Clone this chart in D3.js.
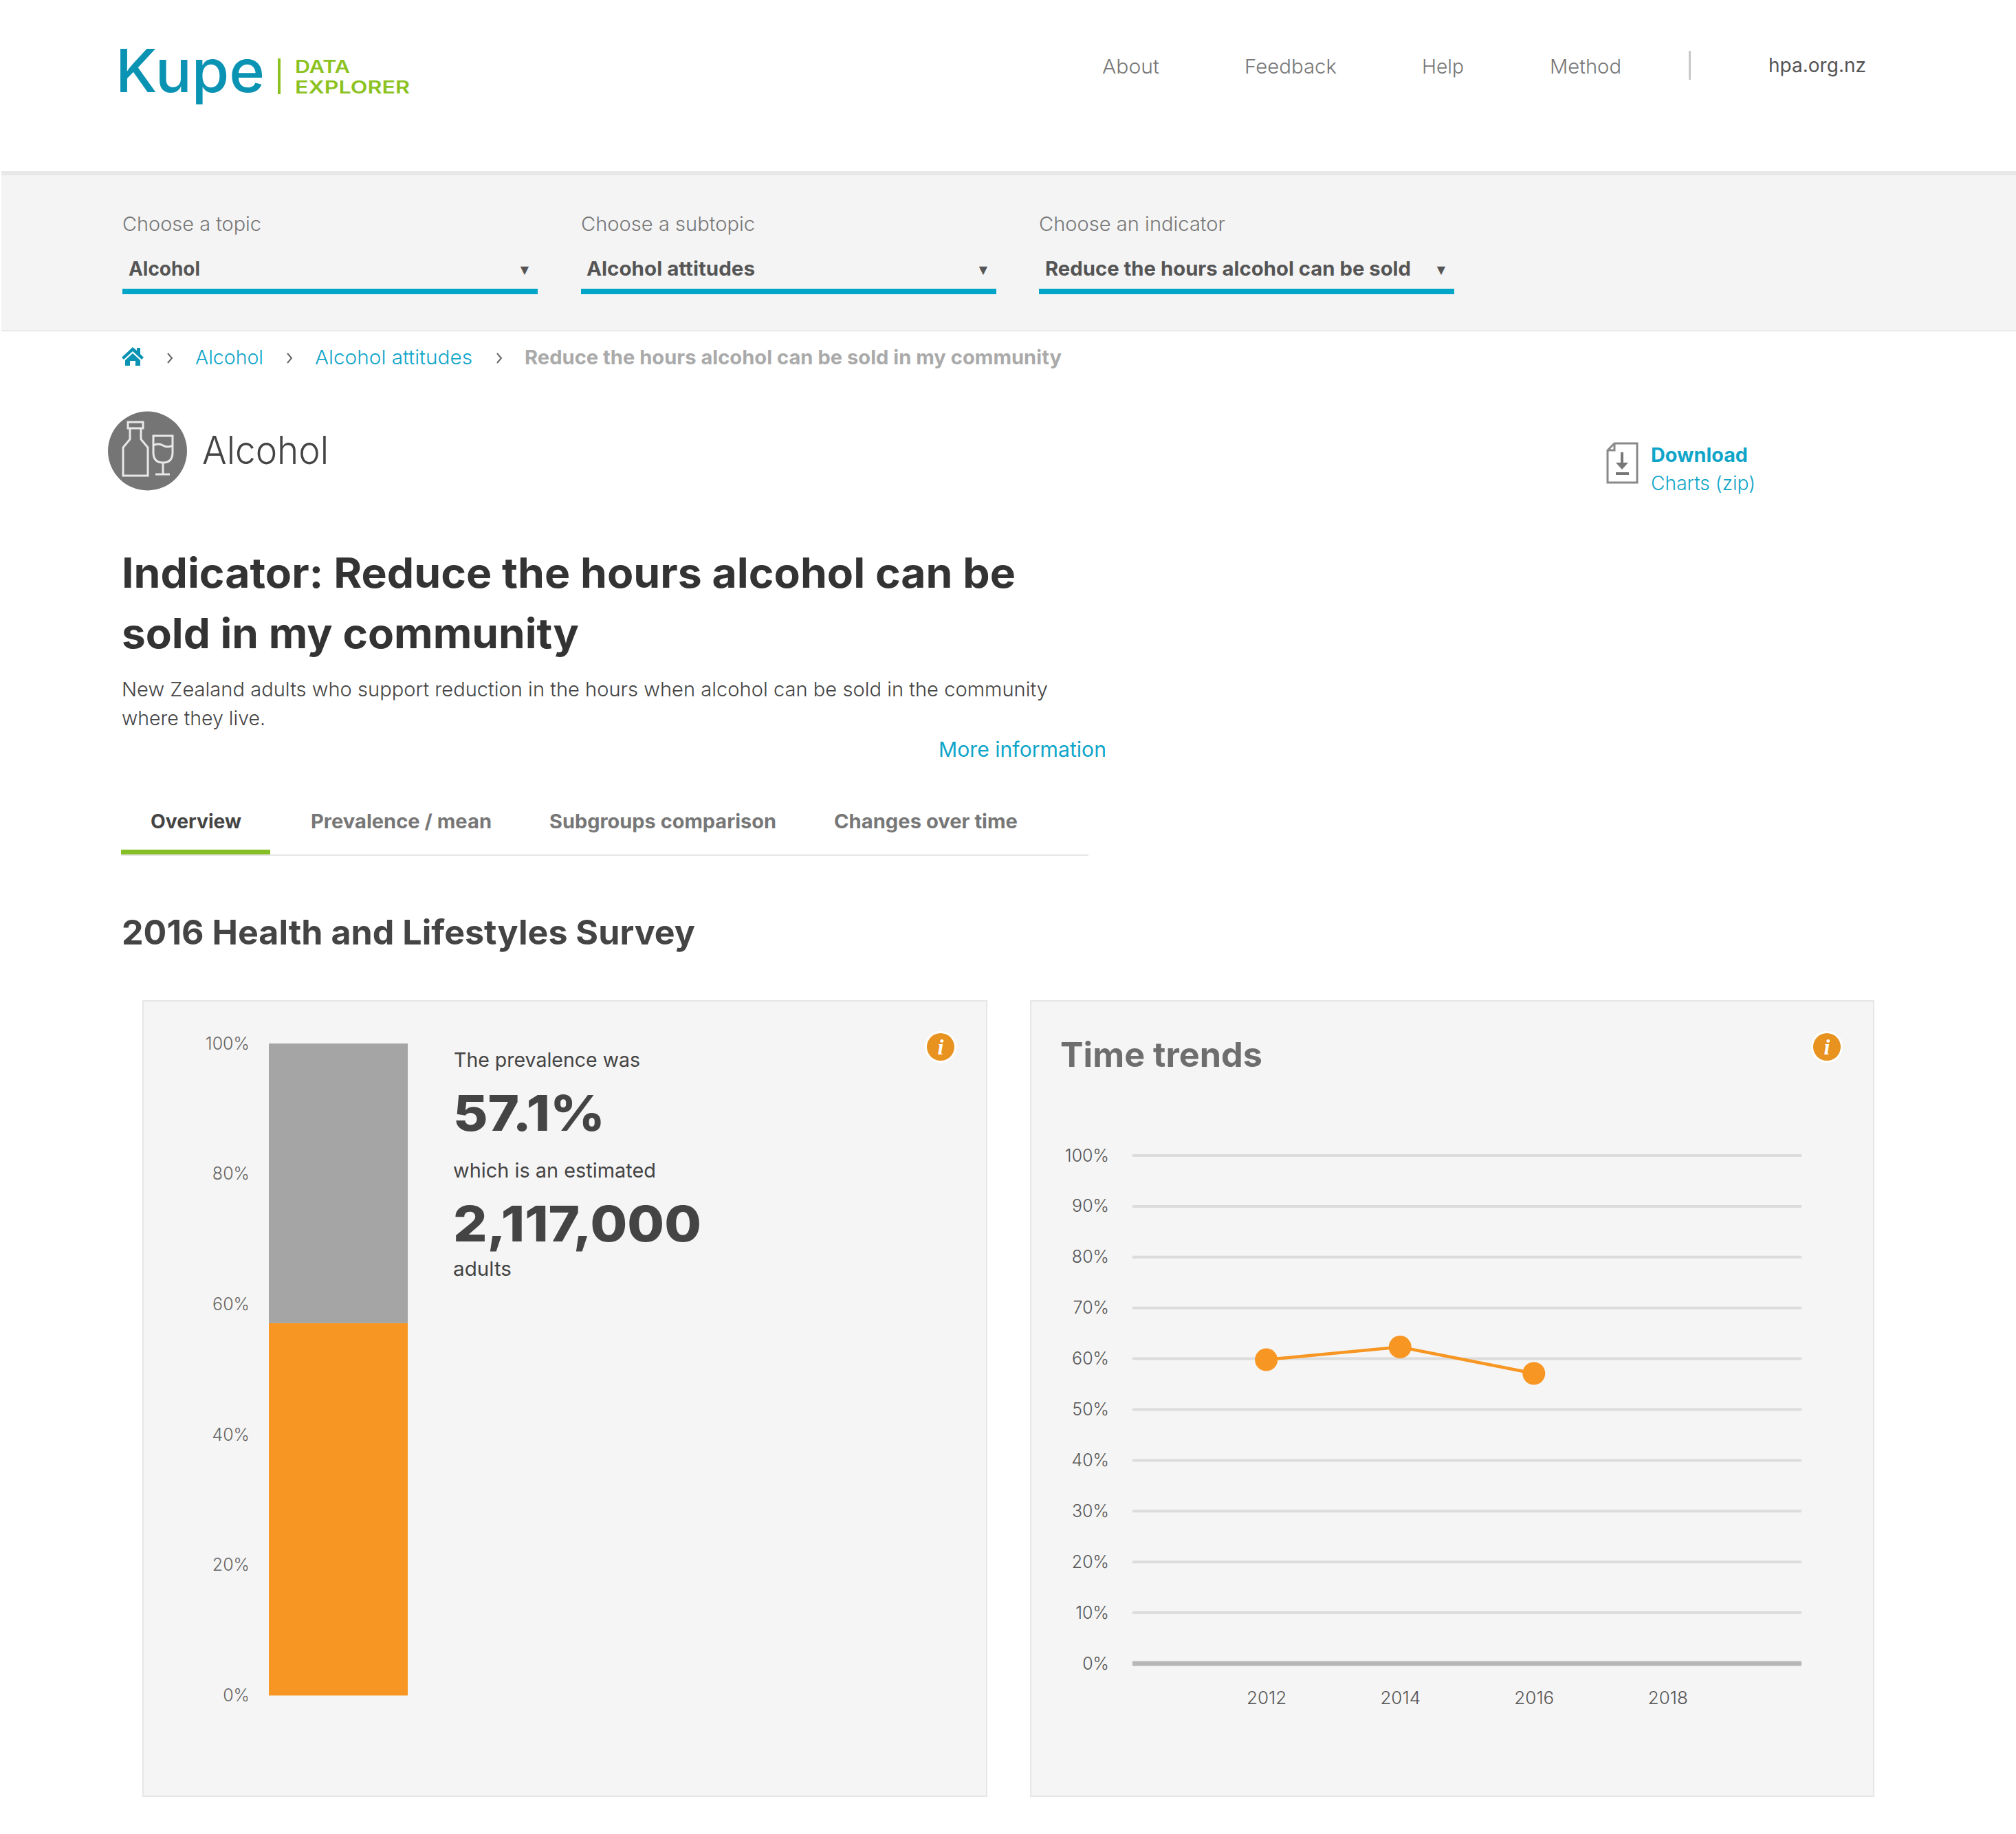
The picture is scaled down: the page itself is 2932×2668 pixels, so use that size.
<!DOCTYPE html>
<html><head><meta charset="utf-8">
<script src="https://cdnjs.cloudflare.com/ajax/libs/d3/7.8.5/d3.min.js"></script>
<style>html,body{margin:0;padding:0;background:#fff}svg{display:block}text{font-family:Inter,"Noto Sans",sans-serif}</style>
</head><body><div id="chart"></div>
<script>
const barTicks = [0, 20, 40, 60, 80, 100];
const prevalence = 57.1;
const remainder = 42.9;
const trendYears = [2012, 2014, 2016];
const trendValues = [59.8, 62.3, 57.1];
const trendYTicks = [0, 10, 20, 30, 40, 50, 60, 70, 80, 90, 100];
const trendXTicks = [2012, 2014, 2016, 2018];
const navLabels = ["About", "Feedback", "Help", "Method"];
const dropdownLabels = ["Choose a topic", "Choose a subtopic", "Choose an indicator"];
const dropdownValues = ["Alcohol", "Alcohol attitudes", "Reduce the hours alcohol can be sold"];
const tabLabels = ["Overview", "Prevalence / mean", "Subgroups comparison", "Changes over time"];

const svg = d3.select("#chart").append("svg").attr("width", 2932).attr("height", 2668);
svg.append("rect").attr("width", 2932).attr("height", 2668).attr("fill", "#fff");

function txt(s, x, y, size, weight, color, width, anchor) {
  const t = svg.append("text").text(s).attr("x", x).attr("y", y)
    .attr("font-size", size).attr("font-weight", weight).attr("fill", color)
    .attr("text-anchor", anchor || "start");
  if (width) t.attr("textLength", width).attr("lengthAdjust", "spacingAndGlyphs");
  return t;
}
function box(x, y, w, h, fill) {
  return svg.append("rect").attr("x", x).attr("y", y).attr("width", w).attr("height", h).attr("fill", fill);
}

// header
txt("Kupe", 168, 134, 86, 500, "#0a93b3", 217);
box(404, 85, 4, 52, "#8cc21f");
txt("DATA", 429, 105.5, 25, 600, "#8cc21f", 80);
txt("EXPLORER", 429, 136, 25, 600, "#8cc21f", 167);
const navX = [[1603, 83], [1810, 134], [2068, 61], [2254, 104]];
navLabels.forEach((d, i) => txt(d, navX[i][0], 107, 29, 300, "#777", navX[i][1]));
box(2456, 74, 3, 42, "#c8c8c8");
txt("hpa.org.nz", 2572, 105, 29, 400, "#555", 142);

// filter strip
box(2, 249, 2930, 6, "#e8e8e8");
box(2, 255, 2930, 225, "#f4f4f4");
box(2, 480, 2930, 2, "#e9e9e9");
const ddX = [178, 845, 1511];
const ddLabelW = [202, 253, 271];
const ddValW = [[9, 104], [8, 245], [9, 532]];
const ddArrow = [763, 1430, 2096];
dropdownLabels.forEach((d, i) => {
  txt(d, ddX[i], 336, 29, 300, "#777", ddLabelW[i]);
  txt(dropdownValues[i], ddX[i] + ddValW[i][0], 401, 29, 700, "#555", ddValW[i][1]);
  txt("\u25BC", ddArrow[i], 398, 16, 400, "#555", null, "middle").style("font-family", "DejaVu Sans");
  box(ddX[i], 420, 604, 8, "#00a5c8");
});

// breadcrumb
svg.append("path").attr("fill", "#0a93b3")
  .attr("d", "M193 505 L177 520 L180 523 L193 511 L206 523 L209 520 L204 515 L204 506 L199 506 L199 510 Z M182 524 L193 514 L204 524 L204 532 L197 532 L197 525 L189 525 L189 532 L182 532 Z");
[247, 421, 726].forEach(x => svg.append("path").attr("fill", "none").attr("stroke", "#666").attr("stroke-width", 2)
  .attr("d", `M${x - 3} 514 L${x + 3} 521 L${x - 3} 528`));
txt("Alcohol", 284, 530, 29, 300, "#0fa5c9", 99);
txt("Alcohol attitudes", 458, 530, 29, 300, "#0fa5c9", 229);
txt("Reduce the hours alcohol can be sold in my community", 763, 530, 29, 700, "#aaa", 781);

// topic icon
svg.append("circle").attr("cx", 214.5).attr("cy", 656).attr("r", 57.5).attr("fill", "#757575");
svg.append("path").attr("fill", "none").attr("stroke", "#e8e8e8").attr("stroke-width", 3)
  .attr("d", "M186 614 H208 V623 H186 Z M189 623 V639 L179 651 V692 H215 V651 L205 639 V623 M223 634 H251 V658 Q251 673 237 673 Q223 673 223 658 Z M223 648 Q230 644 237 648 T251 648 M237 673 V690 M226 690 H247");
txt("Alcohol", 294, 675, 56, 300, "#444", 184);

// download
svg.append("path").attr("fill", "none").attr("stroke", "#8a8a8a").attr("stroke-width", 3)
  .attr("d", "M2348 645 H2381 V702 H2338 V655 Z M2338 655 H2348 V645");
svg.append("path").attr("fill", "none").attr("stroke", "#777").attr("stroke-width", 4)
  .attr("d", "M2359 658 V678 M2350 689 H2369");
svg.append("path").attr("fill", "#777").attr("d", "M2350 673 H2368 L2359 683 Z");
txt("Download", 2401, 672, 28, 700, "#0fa5c9", 141);
txt("Charts (zip)", 2401, 713, 28, 300, "#0fa5c9", 152);

// titles
txt("Indicator: Reduce the hours alcohol can be", 177, 855, 60, 700, "#333", 1300);
txt("sold in my community", 177, 943, 60, 700, "#333", 665);
txt("New Zealand adults who support reduction in the hours when alcohol can be sold in the community", 177, 1013, 29, 300, "#444", 1347);
txt("where they live.", 177, 1055, 29, 300, "#444", 209);
txt("More information", 1365, 1101, 30, 400, "#0fa5c9", 244);

// tabs
const tabX = [[219, 132], [452, 263], [799, 330], [1213, 267]];
tabLabels.forEach((d, i) => txt(d, tabX[i][0], 1205, 28, 700, i === 0 ? "#444" : "#777", tabX[i][1]));
box(176, 1243, 1407, 2, "#e6e6e6");
box(176, 1236, 217, 7, "#85bf25");
txt("2016 Health and Lifestyles Survey", 177, 1374, 50, 700, "#444", 834);

// panels
[[208, 1227], [1499, 1226]].forEach(p => {
  svg.append("rect").attr("x", p[0]).attr("y", 1456).attr("width", p[1]).attr("height", 1157)
    .attr("fill", "#f5f5f5").attr("stroke", "#e6e6e6").attr("stroke-width", 2);
});
function info(cx, cy) {
  svg.append("circle").attr("cx", cx).attr("cy", cy).attr("r", 23).attr("fill", "#fff");
  svg.append("circle").attr("cx", cx).attr("cy", cy).attr("r", 20).attr("fill", "#e8921f");
  txt("i", cx, cy + 11, 32, 700, "#fff", null, "middle").style("font-family", "Liberation Serif").style("font-style", "italic");
}
info(1368, 1523);
info(2657, 1523);

// prevalence bar
const barY = d3.scaleLinear().domain([0, 100]).range([2466.5, 1518]);
const barAxis = svg.append("g").attr("transform", "translate(363,0)")
  .call(d3.axisLeft(barY).tickValues(barTicks).tickSize(0).tickPadding(0).tickFormat(d => d + "%"));
barAxis.select(".domain").remove();
barAxis.selectAll("text").style("font-family", "Inter").attr("font-size", 25).attr("font-weight", 300).attr("fill", "#666");
const stacked = d3.stack().keys(["value", "rest"])([{ value: prevalence, rest: remainder }]);
svg.append("g").selectAll("rect").data(stacked).join("rect")
  .attr("x", 391).attr("width", 202)
  .attr("y", d => barY(d[0][1]))
  .attr("height", d => barY(d[0][0]) - barY(d[0][1]))
  .attr("fill", (d, i) => ["#f79622", "#a5a5a5"][i]);

txt("The prevalence was", 660, 1552, 29, 400, "#444", 271);
txt(prevalence + "%", 659, 1645, 72, 800, "#444", 221);
txt("which is an estimated", 659, 1713, 29, 400, "#444", 295);
txt("2,117,000", 659, 1806, 72, 800, "#444", 361);
txt("adults", 659, 1856, 29, 400, "#444", 85);

// time trends
txt("Time trends", 1542, 1552, 50, 700, "#6e6e6e", 294);
const tx = d3.scaleLinear().domain([2010, 2020]).range([1647, 2620]);
const ty = d3.scaleLinear().domain([0, 100]).range([2420, 1681]);
svg.append("g").selectAll("line").data(trendYTicks).join("line")
  .attr("x1", tx(2010)).attr("x2", tx(2020)).attr("y1", d => ty(d)).attr("y2", d => ty(d))
  .attr("stroke", d => d === 0 ? "#b7b7b7" : "#dcdcdc").attr("stroke-width", d => d === 0 ? 7 : 4);
const yAxis = svg.append("g").attr("transform", "translate(1613,0)")
  .call(d3.axisLeft(ty).tickValues(trendYTicks).tickSize(0).tickPadding(0).tickFormat(d => d + "%"));
yAxis.select(".domain").remove();
yAxis.selectAll("text").style("font-family", "Inter").attr("font-size", 25).attr("font-weight", 300).attr("fill", "#555");
const xAxis = svg.append("g").attr("transform", "translate(0,2461)")
  .call(d3.axisBottom(tx).tickValues(trendXTicks).tickSize(0).tickPadding(0).tickFormat(d3.format("d")));
xAxis.select(".domain").remove();
xAxis.selectAll("text").style("font-family", "Inter").attr("font-size", 26).attr("font-weight", 300).attr("fill", "#555");
const trend = trendYears.map((y, i) => [y, trendValues[i]]);
svg.append("path").datum(trend).attr("fill", "none").attr("stroke", "#f79622").attr("stroke-width", 4.5)
  .attr("d", d3.line().x(d => tx(d[0])).y(d => ty(d[1])));
svg.append("g").selectAll("circle").data(trend).join("circle")
  .attr("cx", d => tx(d[0])).attr("cy", d => ty(d[1])).attr("r", 16.5).attr("fill", "#f79622");
</script></body></html>
